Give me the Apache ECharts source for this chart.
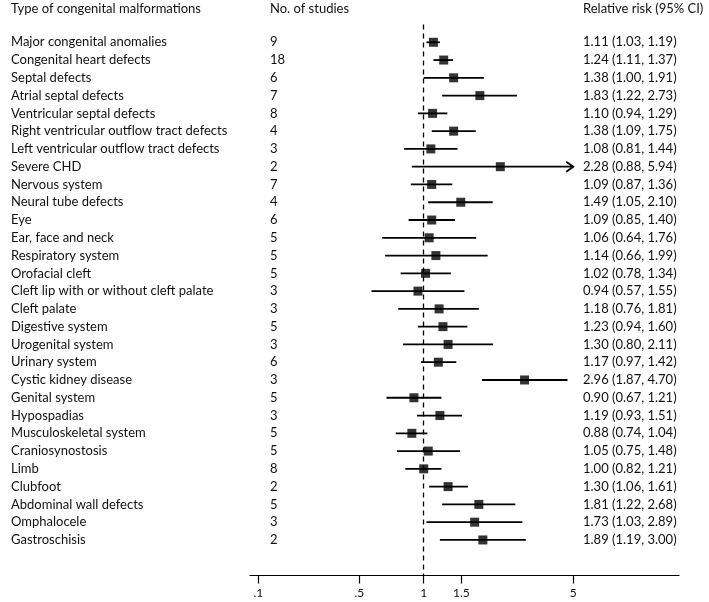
<!DOCTYPE html>
<html>
<head>
<meta charset="utf-8">
<script src="https://cdn.jsdelivr.net/npm/echarts@6/dist/echarts.min.js"></script>
<style>html,body{margin:0;padding:0;background:#fff}#c{width:709px;height:602px}</style>
</head>
<body>
<div id="c"></div>
<script>
const categories = ["Major congenital anomalies","Congenital heart defects","Septal defects","Atrial septal defects","Ventricular septal defects","Right ventricular outflow tract defects","Left ventricular outflow tract defects","Severe CHD","Nervous system","Neural tube defects","Eye","Ear, face and neck","Respiratory system","Orofacial cleft","Cleft lip with or without cleft palate","Cleft palate","Digestive system","Urogenital system","Urinary system","Cystic kidney disease","Genital system","Hypospadias","Musculoskeletal system","Craniosynostosis","Limb","Clubfoot","Abdominal wall defects","Omphalocele","Gastroschisis"];
const studies = [9,18,6,7,8,4,3,2,7,4,6,5,5,5,3,3,5,3,6,3,5,3,5,5,8,2,5,3,2];
const rr    = [1.11,1.24,1.38,1.83,1.10,1.38,1.08,2.28,1.09,1.49,1.09,1.06,1.14,1.02,0.94,1.18,1.23,1.30,1.17,2.96,0.90,1.19,0.88,1.05,1.00,1.30,1.81,1.73,1.89];
const lower = [1.03,1.11,1.00,1.22,0.94,1.09,0.81,0.88,0.87,1.05,0.85,0.64,0.66,0.78,0.57,0.76,0.94,0.80,0.97,1.87,0.67,0.93,0.74,0.75,0.82,1.06,1.22,1.03,1.19];
const upper = [1.19,1.37,1.91,2.73,1.29,1.75,1.44,5.94,1.36,2.10,1.40,1.76,1.99,1.34,1.55,1.81,1.60,2.11,1.42,4.70,1.21,1.51,1.04,1.48,1.21,1.61,2.68,2.89,3.00];
const tickValues = [0.1687, 0.5, 1, 1.5, 5];
const tickLabels = [".1", ".5", "1", "1.5", "5"];
const headers = ["Type of congenital malformations", "No. of studies", "Relative risk (95% CI)"];

const L = Math.log10;
const xMin = L(0.1542), xMax = L(15.6), clipMax = L(5);
const FONT = 'Lato';
const TXT = '#111';
const n = categories.length;
const ciText = rr.map((v,i)=> v.toFixed(2)+' ('+lower[i].toFixed(2)+', '+upper[i].toFixed(2)+')');
const logTicks = tickValues.map(L);

function rowLabel(arr){ return v => (v>=1 && v<=n && Number.isInteger(v)) ? String(arr[v-1]) : ''; }
const yBase = {type:'value', inverse:true, min:0, max:31, interval:1,
  axisLine:{show:false}, axisTick:{show:false}, splitLine:{show:false}};

const chart = echarts.init(document.getElementById('c'), null, {renderer:'canvas'});
chart.setOption({
  animation:false,
  backgroundColor:'#fff',
  grid:{left:250, right:30, top:24.5, bottom:26.5},
  xAxis:{type:'value', position:'bottom', min:xMin, max:xMax,
    axisLine:{show:true, onZero:false, lineStyle:{color:'#000', width:1.2}},
    axisTick:{show:true, customValues:logTicks, length:8, lineStyle:{color:'#000', width:1.2}},
    axisLabel:{customValues:logTicks, margin:12, color:TXT, fontFamily:FONT, fontSize:12,
      formatter:v=>{let b=0;for(let i=1;i<logTicks.length;i++){if(Math.abs(logTicks[i]-v)<Math.abs(logTicks[b]-v))b=i;}return tickLabels[b];}},
    splitLine:{show:false}},
  yAxis:[
    Object.assign({}, yBase, {position:'left', axisLabel:{formatter:rowLabel(categories), align:'left', margin:239, color:TXT, fontFamily:FONT, fontSize:13}}),
    Object.assign({}, yBase, {position:'left', axisLabel:{formatter:rowLabel(studies), align:'left', margin:-20, color:TXT, fontFamily:FONT, fontSize:13}}),
    Object.assign({}, yBase, {position:'right', axisLabel:{formatter:rowLabel(ciText), align:'left', margin:-96, color:TXT, fontFamily:FONT, fontSize:13}})
  ],
  graphic:[
    {type:'text', left:11, top:2, style:{text:headers[0], fill:TXT, font:'13px '+FONT}},
    {type:'text', left:270, top:2, style:{text:headers[1], fill:TXT, font:'13px '+FONT}},
    {type:'text', left:583, top:2, style:{text:headers[2], fill:TXT, font:'13px '+FONT}}
  ],
  series:[
    {type:'custom', xAxisIndex:0, yAxisIndex:0, silent:true, clip:false,
      data: categories.map((c,i)=>[L(lower[i]), L(upper[i]), i+1]),
      encode:{x:[0,1], y:2},
      renderItem:(params, api)=>{
        const lo = api.value(0), hi = api.value(1), row = api.value(2);
        const p1 = api.coord([lo,row]);
        const p2 = api.coord([Math.min(hi,clipMax),row]);
        const children = [{type:'line', shape:{x1:p1[0],y1:p1[1],x2:p2[0],y2:p2[1]}, style:{stroke:'#000', lineWidth:1.8}}];
        if (hi > clipMax) {
          children.push({type:'polyline', shape:{points:[[p2[0]-7,p2[1]-5],[p2[0],p2[1]],[p2[0]-7,p2[1]+5]]}, style:{stroke:'#000', fill:null, lineWidth:1.8}});
        }
        return {type:'group', children};
      }},
    {type:'scatter', xAxisIndex:0, yAxisIndex:0, symbol:'rect', symbolSize:9, silent:true,
      itemStyle:{color:'#000'},
      data: rr.map((v,i)=>[L(v), i+1]),
      markLine:{silent:true, symbol:'none', label:{show:false},
        lineStyle:{color:'#000', type:[5,4], width:1.3},
        data:[{xAxis:0}]}}
  ]
});
</script>
</body>
</html>
